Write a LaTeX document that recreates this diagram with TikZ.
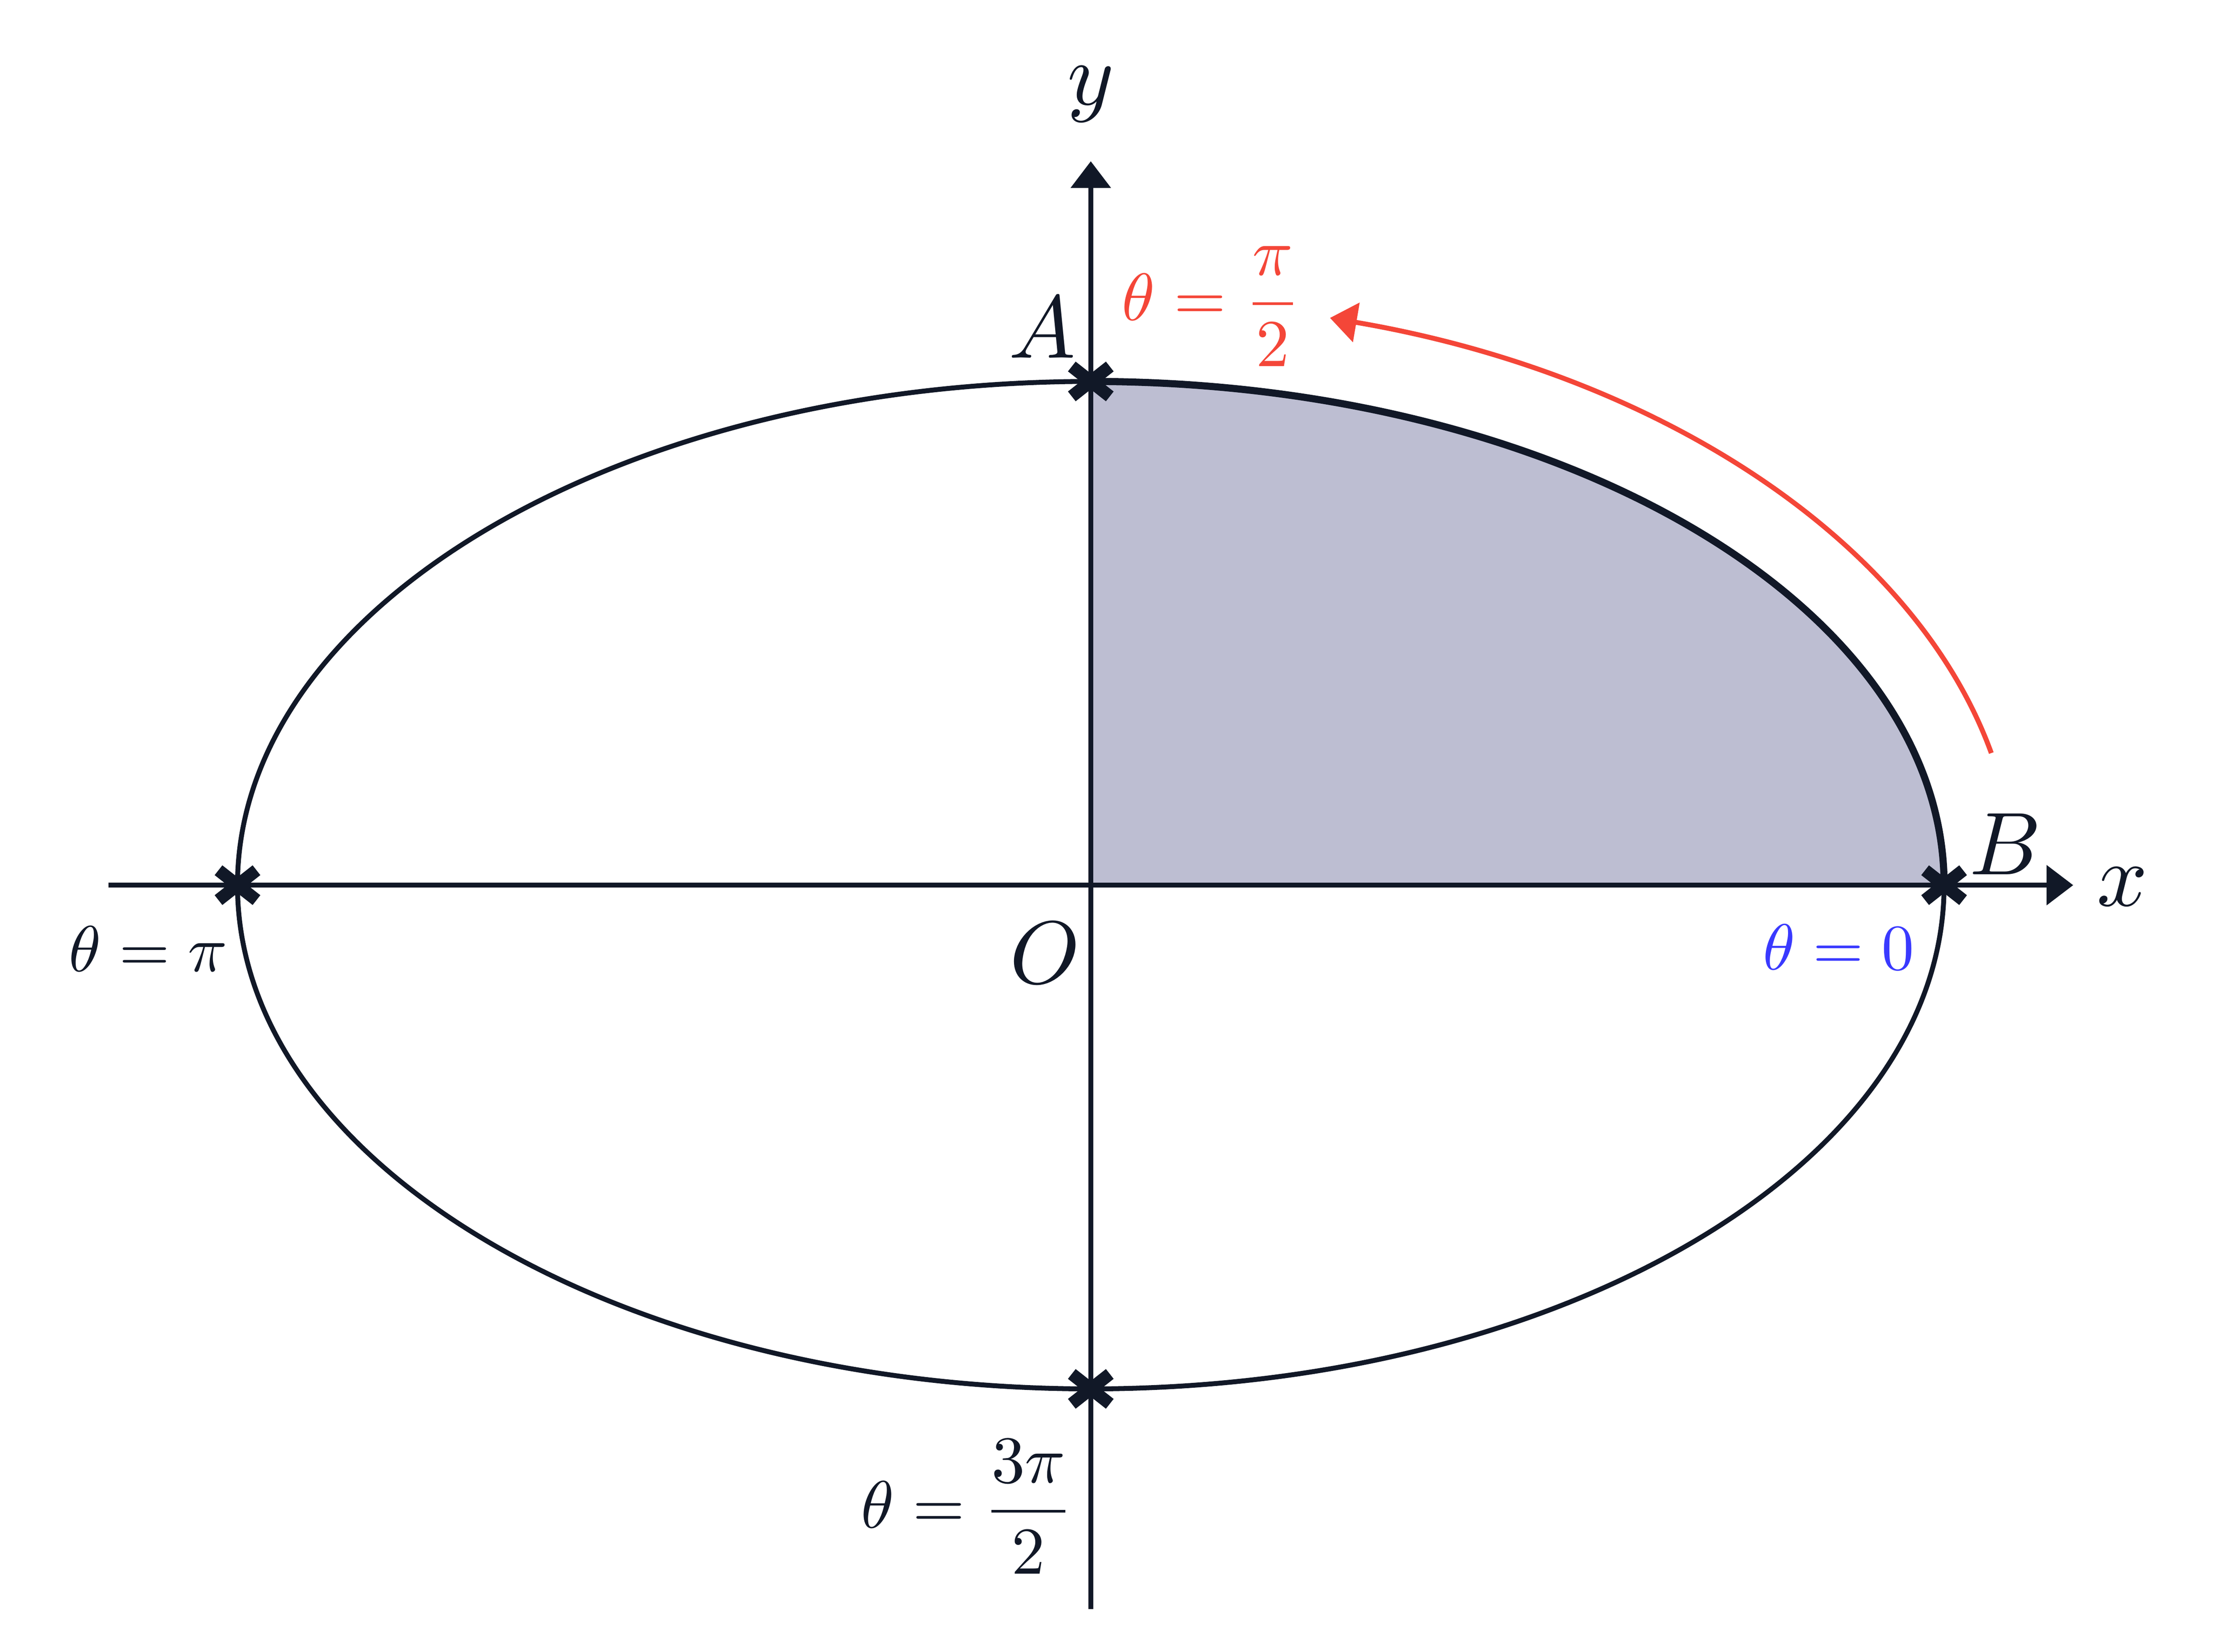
\documentclass[tikz,border=0pt]{standalone}
\usepackage{amsmath,amssymb}
\usepackage{tikz}
\usepackage{xcolor}
\usetikzlibrary{calc,arrows.meta}
\definecolor{ink}{HTML}{111827}
\definecolor{quartershade}{HTML}{BDBED2}
\definecolor{sweepred}{HTML}{F44638}
\definecolor{zeroblue}{HTML}{3939FF}

\begin{document}
\begin{tikzpicture}[
    axisline/.style={ink, line width=0.58pt, -{Triangle[length=3pt,width=4.4pt]}},
    ellipseline/.style={ink, line width=0.55pt},
    crossmark/.style={ink, line width=1.4pt},
    lbl/.style={text=ink, inner sep=0pt},
    anglelbl/.style={lbl, scale=0.73}
]
    \useasboundingbox (-4.308,-3.028) rectangle (4.436,3.497);

    % Shaded quarter
    \fill[quartershade] (0,0) -- (3.37,0) arc[start angle=0, end angle=90, x radius=3.37, y radius=1.99] -- cycle;

    % Ellipse
    \draw[ellipseline] (0,0) ellipse[x radius=3.37, y radius=1.99];
    \draw[ellipseline, line width=0.8pt] (3.37,0) arc[start angle=0, end angle=90, x radius=3.37, y radius=1.99];

    % Axes
    \coordinate (O) at (0,0);
    \coordinate (xstart) at (-3.88,0);
    \coordinate (xend) at (3.88,0);
    \coordinate (ystart) at (0,-2.86);
    \coordinate (yend) at (0,2.86);
    \draw[axisline] (xstart) -- (xend);
    \draw[axisline] (ystart) -- (yend);
    \node[lbl] (xlabel) at (4.074,-0.006) {$x$};
    \node[lbl] (ylabel) at (0,3.125) {$y$};

    % Points on the ellipse
    \foreach \name/\x/\y in {B/3.37/0, A/0/1.99, W/-3.37/0, S/0/-1.99} {
        \coordinate (\name) at (\x,\y);
        \draw[crossmark] ($(\name)+(-0.075,-0.059)$) -- ($(\name)+(0.075,0.059)$);
        \draw[crossmark] ($(\name)+(-0.075,0.059)$) -- ($(\name)+(0.075,-0.059)$);
    }

    % Labels
    \node[lbl] (Alabel) at (-0.192,2.203) {$A$};
    \node[lbl] (Blabel) at (3.611,0.162) {$B$};
    \node[lbl] (Olabel) at (-0.181,-0.268) {$O$};
    \node[anglelbl, text=zeroblue] (zerolabel) at (2.953,-0.245) {$\theta = 0$};
    \node[anglelbl] (pilabel) at (-3.723,-0.251) {$\theta = \pi$};
    \node[anglelbl, scale=1.03] (threehalflabel) at (-0.488,-2.455) {$\theta = \dfrac{3\pi}{2}$};
    \node[anglelbl, scale=1.03, text=sweepred] (halflabel) at (0.477,2.287) {$\theta = \dfrac{\pi}{2}$};

    % Sweep arrow
    \coordinate (sweepstart) at (13:3.65 and 2.32);
    \draw[sweepred, line width=0.55pt, -{Triangle[length=3pt,width=4.4pt]}]
        (sweepstart) arc[start angle=13, end angle=75, x radius=3.65, y radius=2.32];
\end{tikzpicture}
\end{document}
